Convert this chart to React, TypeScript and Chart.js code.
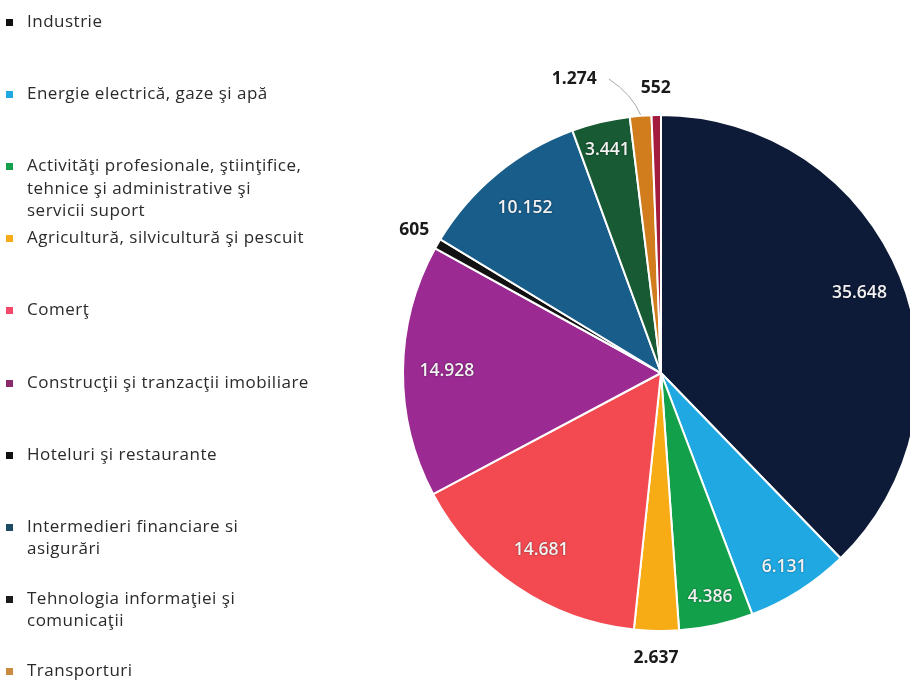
import React, { useEffect, useRef } from "react";
import { Chart, registerables } from "chart.js";
Chart.register(...registerables);

const categories: string[][] = [
  ["Industrie"],
  ["Energie electrică, gaze şi apă"],
  ["Activităţi profesionale, ştiinţifice,", "tehnice şi administrative şi", "servicii suport"],
  ["Agricultură, silvicultură şi pescuit"],
  ["Comerţ"],
  ["Construcţii şi tranzacţii imobiliare"],
  ["Hoteluri şi restaurante"],
  ["Intermedieri financiare si", "asigurări"],
  ["Tehnologia informaţiei şi", "comunicaţii"],
  ["Transporturi"],
  ["Alte activităţi de servicii"],
];
const values: number[] = [35648, 6131, 4386, 2637, 14681, 14928, 605, 10152, 3441, 1274, 552];
const sliceColors: string[] = [
  "#0e1b38", "#1fa8e2", "#13a04b", "#f7ab14", "#f24a50", "#9b2b92",
  "#121212", "#195d8b", "#175a33", "#d17d1e", "#a31c3d",
];
const legendColors: string[] = [
  "#111111", "#1fa8e2", "#13a04b", "#f7ab14", "#f24a6a", "#8b2a6a",
  "#111111", "#1d4b63", "#1b1b1b", "#c98a3e", "#a31c3d",
];
const insideThreshold = 3000;

const fmt = (n: number) => n.toString().replace(/\B(?=(\d{3})+(?!\d))/g, ".");

const labelPlugin = {
  id: "sliceLabels",
  afterDatasetsDraw(chart: any) {
    const ctx = chart.ctx as CanvasRenderingContext2D;
    const meta = chart.getDatasetMeta(0);
    const boxes: { x1: number; x2: number; y1: number; y2: number }[] = [];
    ctx.save();
    ctx.textAlign = "center";
    ctx.textBaseline = "middle";
    const n = meta.data.length;
    for (let k = n - 1; k >= 0; k--) {
      const arc = meta.data[k];
      const p = arc.getProps(["x", "y", "startAngle", "endAngle", "outerRadius"], true);
      const mid = (p.startAngle + p.endAngle) / 2;
      const span = p.endAngle - p.startAngle;
      const text = fmt(values[k]);
      if (values[k] >= insideThreshold) {
        const r = p.outerRadius * (span > 0.6 ? 0.83 : 0.89);
        const lx = p.x + Math.cos(mid) * r;
        const ly = p.y + Math.sin(mid) * r;
        ctx.font = "600 17.5px 'Open Sans'";
        ctx.shadowColor = "rgba(0,0,0,0.5)";
        ctx.shadowBlur = 2;
        ctx.fillStyle = "#f2f2f2";
        ctx.fillText(text, lx, ly);
        ctx.shadowBlur = 0;
        ctx.shadowColor = "transparent";
      } else {
        const r = p.outerRadius + 27;
        let lx = p.x + Math.cos(mid) * r;
        let ly = p.y + Math.sin(mid) * r;
        ctx.font = "bold 17.5px 'Open Sans'";
        const w = ctx.measureText(text).width;
        let box = { x1: lx - w / 2, x2: lx + w / 2, y1: ly - 9, y2: ly + 9 };
        let moved = false;
        for (const b of boxes) {
          if (box.x1 < b.x2 && box.x2 > b.x1 && box.y1 < b.y2 && box.y2 > b.y1) {
            const shift = box.x2 - b.x1 + 44;
            lx -= shift;
            ly -= 10;
            box = { x1: lx - w / 2, x2: lx + w / 2, y1: ly - 9, y2: ly + 9 };
            moved = true;
          }
        }
        if (moved) {
          const ex = p.x + Math.cos(mid) * (p.outerRadius + 1);
          const ey = p.y + Math.sin(mid) * (p.outerRadius + 1);
          ctx.strokeStyle = "#a8a8a8";
          ctx.lineWidth = 1;
          ctx.beginPath();
          ctx.moveTo(box.x2 + 12, ly);
          ctx.quadraticCurveTo(ex - 8, ey - 20, ex, ey);
          ctx.stroke();
        }
        boxes.push(box);
        ctx.fillStyle = "#1a1a1a";
        ctx.fillText(text, lx, ly);
      }
    }
    ctx.restore();
  },
};

export default function App() {
  const ref = useRef<HTMLCanvasElement>(null);
  useEffect(() => {
    if (!ref.current) return;
    const chart = new Chart(ref.current, {
      type: "pie",
      data: {
        labels: categories.map((c) => c.join(" ")),
        datasets: [
          {
            data: values,
            backgroundColor: sliceColors,
            borderColor: "#ffffff",
            borderWidth: 2,
          },
        ],
      },
      options: {
        responsive: false,
        animation: false,
        devicePixelRatio: 1,
        layout: { padding: { left: 402, right: 80, top: 114, bottom: 48 } },
        plugins: { legend: { display: false }, tooltip: { enabled: false } },
      },
      plugins: [labelPlugin],
    });
    return () => chart.destroy();
  }, []);

  return (
    <div
      style={{
        position: "fixed",
        left: 0,
        top: 0,
        width: 910,
        height: 680,
        overflow: "hidden",
        background: "#fff",
      }}
    >
      <canvas ref={ref} width={1000} height={680} style={{ position: "absolute", left: 0, top: 0 }} />
      {categories.map((lines, i) => (
        <div
          key={i}
          style={{
            position: "absolute",
            left: 0,
            top: 10 + i * 72.1,
            fontFamily: "'Open Sans', sans-serif",
            fontSize: 17,
            letterSpacing: 0.5,
            lineHeight: "22.5px",
            color: "#2a2a2a",
          }}
        >
          <span
            style={{
              position: "absolute",
              left: 6,
              top: 9,
              width: 7,
              height: 7,
              background: legendColors[i],
            }}
          />
          {lines.map((l, j) => (
            <div key={j} style={{ marginLeft: 27, whiteSpace: "nowrap" }}>
              {l}
            </div>
          ))}
        </div>
      ))}
    </div>
  );
}
